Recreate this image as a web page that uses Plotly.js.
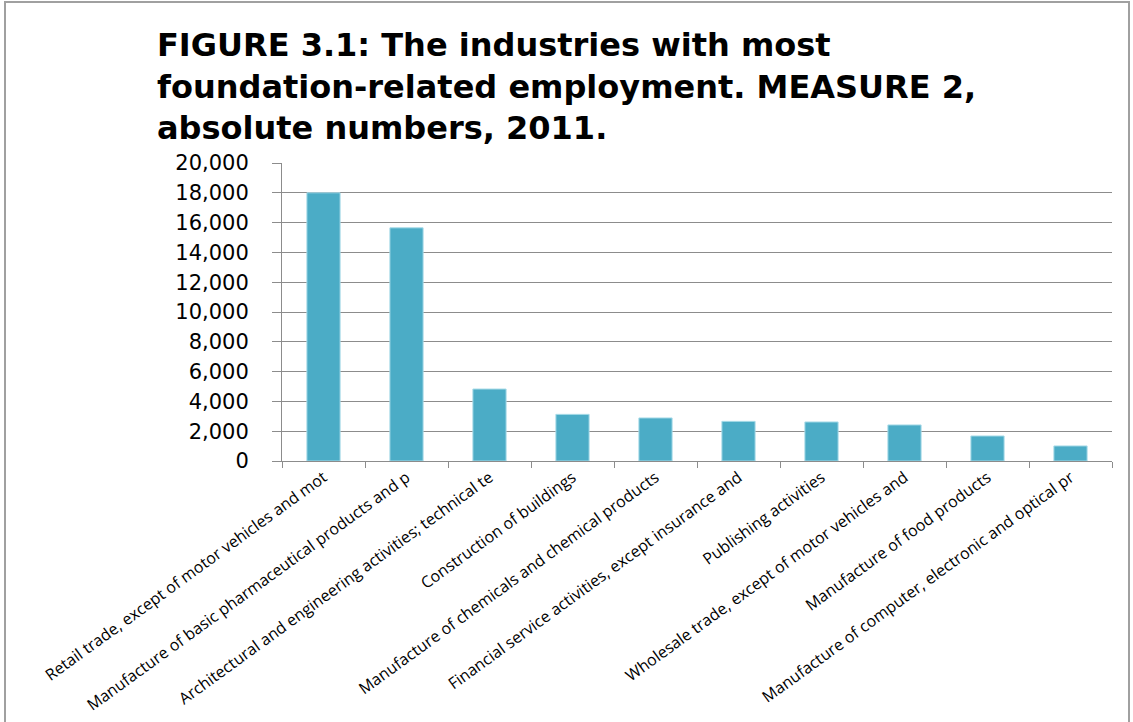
<!DOCTYPE html>
<html>
<head>
<meta charset="utf-8">
<script src="https://cdn.plot.ly/plotly-3.0.1.min.js"></script>
<style>
  html, body { margin: 0; padding: 0; background: #fff; }
  #chart { width: 1133px; height: 722px; }
  #frame { position: absolute; left: 4px; top: 1px; width: 1122px; height: 740px; border: 2px solid #a0a0a0; pointer-events: none; }
</style>
</head>
<body>
<div id="chart"></div>
<div id="frame"></div>
<script>
const categories = [
  "Retail trade, except of motor vehicles and mot",
  "Manufacture of basic pharmaceutical products and p",
  "Architectural and engineering activities; technical te",
  "Construction of buildings",
  "Manufacture of chemicals and chemical products",
  "Financial service activities, except insurance and",
  "Publishing activities",
  "Wholesale trade, except of motor vehicles and",
  "Manufacture of food products",
  "Manufacture of computer, electronic and optical pr"
];
const employment = [18000, 15650, 4830, 3130, 2890, 2660, 2620, 2420, 1680, 1010];
const yTickValues = [0, 2000, 4000, 6000, 8000, 10000, 12000, 14000, 16000, 18000, 20000];
const yTickLabels = ["0", "2,000", "4,000", "6,000", "8,000", "10,000", "12,000", "14,000", "16,000", "18,000", "20,000"];
const titleText = "FIGURE 3.1: The industries with most<br>foundation-related employment. MEASURE 2,<br>absolute numbers, 2011.";

const trace = {
  type: "bar",
  x: categories,
  y: employment,
  marker: { color: "#4BACC6", line: { color: "#a8dbe8", width: 1 } },
  hoverinfo: "x+y"
};

const layout = {
  width: 1133,
  height: 722,
  paper_bgcolor: "#ffffff",
  plot_bgcolor: "#ffffff",
  margin: { l: 282, r: 21, t: 163, b: 261, pad: 0 },
  bargap: 0.6,
  showlegend: false,
  title: {
    text: titleText,
    font: { family: "DejaVu Sans", size: 32, color: "#000000", weight: "bold" },
    xref: "container",
    yref: "container",
    x: 157 / 1133,
    xanchor: "left",
    y: 1 - 56 / 722,
    yanchor: "top"
  },
  xaxis: {
    type: "category",
    tickangle: -36,
    tickfont: { family: "Open Sans", size: 16, color: "#000000" },
    showgrid: false,
    showline: true,
    linecolor: "#8c8c8c",
    linewidth: 1,
    ticks: "outside",
    tickson: "boundaries",
    ticklen: 6,
    tickcolor: "#8c8c8c",
    automargin: false
  },
  yaxis: {
    range: [0, 20000],
    tickmode: "array",
    tickvals: yTickValues,
    ticktext: yTickLabels,
    tickfont: { family: "DejaVu Sans", size: 21, color: "#000000" },
    showgrid: true,
    gridcolor: "#8c8c8c",
    gridwidth: 1,
    showline: true,
    linecolor: "#8c8c8c",
    linewidth: 1,
    ticks: "outside",
    ticklen: 9,
    tickcolor: "#8c8c8c",
    ticklabelstandoff: 19,
    zeroline: false,
    automargin: false
  }
};

Plotly.newPlot("chart", [trace], layout, { displayModeBar: false, staticPlot: true });
</script>
</body>
</html>
